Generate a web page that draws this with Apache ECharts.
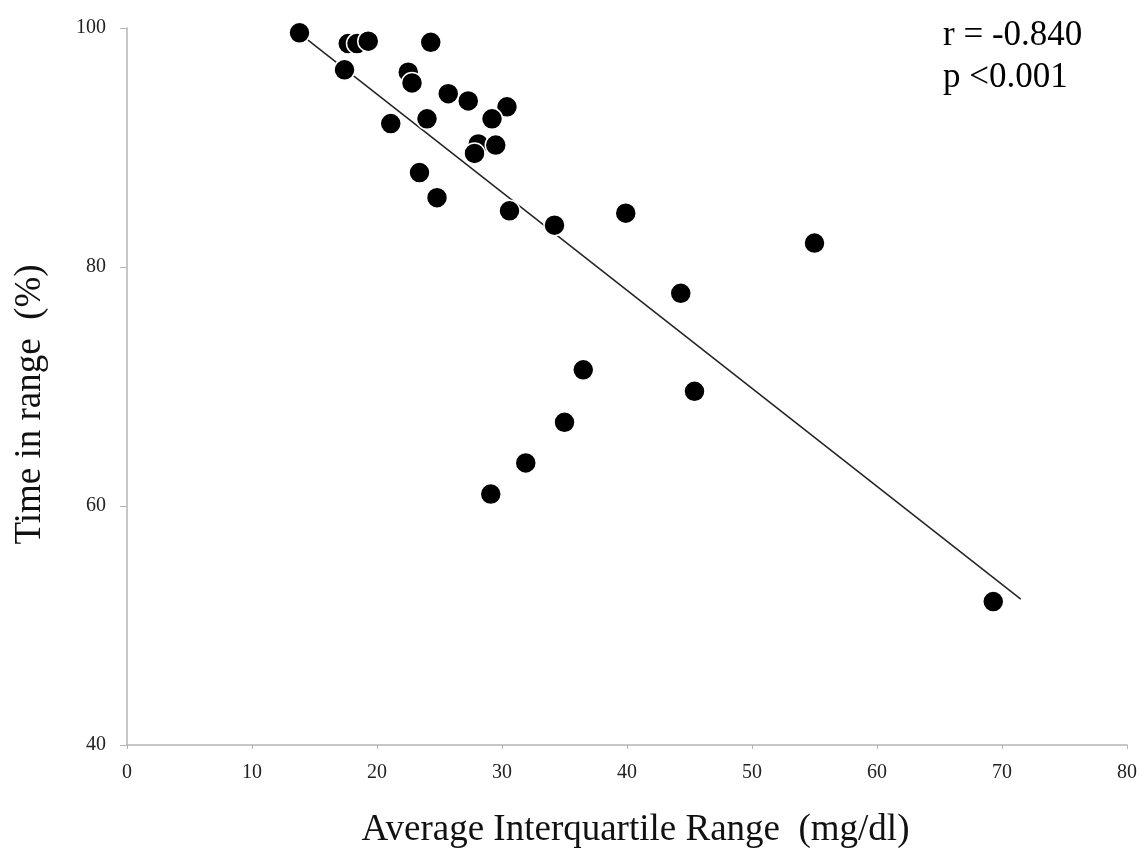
<!DOCTYPE html>
<html>
<head>
<meta charset="utf-8">
<script src="https://cdn.jsdelivr.net/npm/echarts@6/dist/echarts.min.js"></script>
<style>html,body{margin:0;padding:0;background:#fff;}#c{width:1147px;height:848px;}</style>
</head>
<body>
<div id="c"></div>
<script>
// Average interquartile range (mg/dl)
const iqr = [13.8, 17.4, 17.7, 18.4, 19.3, 24.3, 22.5, 22.8, 25.7, 27.3, 30.4, 29.2, 21.1, 24.0, 28.1, 27.8, 29.5, 23.4, 24.8, 30.6, 34.2, 39.9, 55.0, 44.3, 36.5, 45.4, 35.0, 31.9, 29.1, 69.3];
// Time in range (%)
const tir = [99.6, 96.5, 98.7, 98.7, 98.9, 98.8, 96.3, 95.4, 94.5, 93.9, 93.4, 92.4, 92.0, 92.4, 90.3, 89.5, 90.2, 87.9, 85.8, 84.7, 83.5, 84.5, 82.0, 77.8, 71.4, 69.6, 67.0, 63.6, 61.0, 52.0];
// Regression line endpoints
const trendX = [14.1, 71.5];
const trendY = [99.3, 52.2];
const xTicks = [0, 10, 20, 30, 40, 50, 60, 70, 80];
const yTicks = [40, 60, 80, 100];
const stats = ['r = -0.840', 'p <0.001'];

const chart = echarts.init(document.getElementById('c'), null, {renderer: 'canvas'});
const serif = '"Liberation Serif", "DejaVu Serif", serif';
chart.setOption({
  animation: false,
  backgroundColor: '#fff',
  grid: {left: 127, right: 20, top: 28, bottom: 103, containLabel: false, outerBoundsMode: 'none'},
  xAxis: {
    type: 'value', min: xTicks[0], max: xTicks[xTicks.length - 1], interval: 10,
    name: 'Average Interquartile Range  (mg/dl)', nameLocation: 'middle', nameGap: 67,
    nameTextStyle: {fontFamily: serif, fontSize: 37, color: '#111', padding: [0, 0, 0, 17]},
    axisLine: {lineStyle: {color: '#b5b5b5', width: 1.5}},
    axisTick: {show: true, length: 4, lineStyle: {color: '#b5b5b5'}},
    axisLabel: {fontFamily: serif, fontSize: 20, color: '#222', margin: 18},
    splitLine: {show: false}
  },
  yAxis: {
    type: 'value', min: yTicks[0], max: yTicks[yTicks.length - 1], interval: 20,
    name: 'Time in range  (%)', nameLocation: 'middle', nameGap: 78, nameRotate: 90,
    nameTextStyle: {fontFamily: serif, fontSize: 37, color: '#111', padding: [0, 36, 0, 0]},
    axisLine: {show: true, lineStyle: {color: '#b5b5b5', width: 1.5}},
    axisTick: {show: true, length: 7, lineStyle: {color: '#b5b5b5'}},
    axisLabel: {fontFamily: serif, fontSize: 20, color: '#222', margin: 21},
    splitLine: {show: false}
  },
  series: [
    {
      type: 'line',
      data: trendX.map((x, i) => [x, trendY[i]]),
      symbol: 'none',
      lineStyle: {color: '#222', width: 1.5},
      z: 1
    },
    {
      type: 'scatter',
      data: iqr.map((x, i) => [x, tir[i]]),
      symbol: 'circle',
      symbolSize: 21,
      itemStyle: {color: '#000', borderColor: '#fff', borderWidth: 1.5, opacity: 1},
      z: 2
    }
  ],
  graphic: [
    {type: 'text', x: 943, y: 36, style: {text: stats[0], font: '35px ' + serif, fill: '#000', verticalAlign: 'middle'}},
    {type: 'text', x: 943, y: 78, style: {text: stats[1], font: '35px ' + serif, fill: '#000', verticalAlign: 'middle'}}
  ]
});
</script>
</body>
</html>
